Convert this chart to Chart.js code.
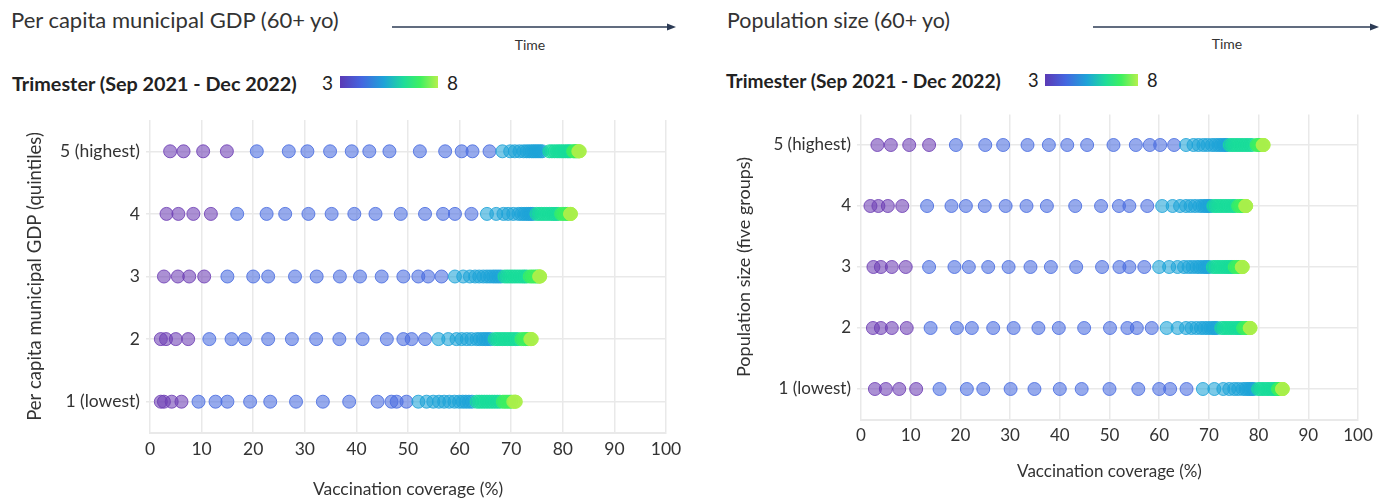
<!DOCTYPE html>
<html>
<head>
<meta charset="utf-8">
<script src="https://cdn.jsdelivr.net/npm/chart.js@4.4.1/dist/chart.umd.min.js"></script>
<style>
  body { margin: 0; background: #fff; font-family: Lato, sans-serif; }
  #wrap { position: relative; width: 1389px; height: 500px; overflow: hidden; }
  .abs { position: absolute; white-space: nowrap; }
  .title { color: #333; }
  .time { font-size: 14px; color: #333; transform: translateX(-50%); }
  .trim { font-weight: bold; color: #222; }
  .num { color: #222; }
  .bar { height: 12px; background: linear-gradient(to right, #5b3ab5 0%, #4466e0 22%, #1ea3d8 45%, #1fdc9a 65%, #3ef060 82%, #b5f04c 100%); }
  canvas { position: absolute; }
</style>
</head>
<body>
<div id="wrap">
  <div class="abs title" style="left:11px;top:6px;font-size:22px">Per capita municipal GDP (60+ yo)</div>
  <svg class="abs" style="left:390px;top:20px" width="290" height="14">
    <line x1="2" y1="7" x2="280" y2="7" stroke="#2c3b55" stroke-width="1.5"/>
    <polygon points="286,7 277,3.5 277,10.5" fill="#2c3b55"/>
  </svg>
  <div class="abs time" style="left:530px;top:36px">Time</div>
  <div class="abs trim" style="left:12px;top:71px;font-size:19.8px">Trimester (Sep 2021 - Dec 2022)</div>
  <div class="abs num" style="left:322px;top:71px;font-size:19px">3</div>
  <div class="abs bar" style="left:340px;top:76px;width:98px"></div>
  <div class="abs num" style="left:447px;top:71px;font-size:19px">8</div>

  <div class="abs title" style="left:727px;top:7px;font-size:21.4px">Population size (60+ yo)</div>
  <svg class="abs" style="left:1091px;top:20px" width="292" height="14">
    <line x1="2" y1="7" x2="282" y2="7" stroke="#2c3b55" stroke-width="1.5"/>
    <polygon points="288,7 279,3.5 279,10.5" fill="#2c3b55"/>
  </svg>
  <div class="abs time" style="left:1227px;top:35px">Time</div>
  <div class="abs trim" style="left:726px;top:69px;font-size:19.1px">Trimester (Sep 2021 - Dec 2022)</div>
  <div class="abs num" style="left:1028px;top:69px;font-size:18.3px">3</div>
  <div class="abs bar" style="left:1045px;top:74px;width:93px"></div>
  <div class="abs num" style="left:1147px;top:69px;font-size:18.3px">8</div>

  <canvas id="gdpChart" width="700" height="400" style="left:0;top:100px"></canvas>
  <canvas id="popChart" width="689" height="405" style="left:700px;top:95px"></canvas>
</div>

<script>
// rows bottom to top, y value = index + 1
const rowLabelsGdp = ["1 (lowest)", "2", "3", "4", "5 (highest)"];
const rowLabelsPop = ["1 (lowest)", "2", "3", "4", "5 (highest)"];
const trimesters = [3, 4, 5, 6, 7, 8];
const trimesterColors = ["110,63,181", "74,109,224", "30,163,216", "24,220,154", "60,240,96", "170,240,74"];

// vaccination coverage (%) per week, grouped by trimester 3..8
const gdpQ1 = [
  [2.1, 2.7, 4.2, 6.1],
  [9.4, 12.7, 15.0, 19.4, 23.3, 28.3, 33.5, 38.6, 44.1, 46.8, 47.8, 49.7],
  [52.0, 53.6, 54.9, 56.0, 57.0, 58.0, 59.0, 59.9, 60.6, 61.2, 61.8, 62.4],
  [63.3, 63.8, 64.3, 64.8, 65.3, 65.8, 66.3, 66.8, 67.3, 67.8],
  [68.4, 68.8, 69.2, 69.6, 70.0],
  [70.4, 70.6, 70.8, 70.9]
];
const gdpQ2 = [
  [2.1, 3.1, 5.0, 7.4],
  [11.5, 15.8, 18.4, 22.9, 27.5, 32.2, 36.7, 41.2, 45.9, 49.1, 50.7, 53.3],
  [55.9, 57.8, 59.4, 60.4, 61.4, 62.3, 63.3, 63.9, 64.5, 65.0, 65.5, 66.0],
  [66.8, 67.3, 67.8, 68.3, 68.8, 69.3, 69.8, 70.3, 70.8, 71.3],
  [72.0, 72.4, 72.8, 73.1, 73.4],
  [73.7, 73.8, 73.9, 74.0]
];
const gdpQ3 = [
  [2.7, 5.4, 7.6, 10.5],
  [15.0, 20.0, 22.9, 28.1, 32.3, 36.8, 40.7, 44.9, 49.1, 52.0, 53.9, 56.5],
  [59.1, 60.7, 62.0, 63.0, 63.8, 64.6, 65.3, 65.9, 66.5, 67.0, 67.5, 68.0],
  [68.7, 69.2, 69.7, 70.2, 70.7, 71.2, 71.7, 72.2, 72.6, 73.0],
  [73.6, 74.0, 74.4, 74.8, 75.1],
  [75.4, 75.5, 75.6, 75.6]
];
const gdpQ4 = [
  [3.2, 5.5, 8.4, 11.8],
  [16.9, 22.6, 26.2, 30.7, 35.2, 39.6, 43.7, 48.6, 53.3, 56.8, 59.1, 62.3],
  [65.3, 67.1, 68.5, 69.4, 70.4, 71.4, 72.0, 72.5, 73.0, 73.4, 73.8, 74.2],
  [74.9, 75.4, 75.9, 76.4, 76.9, 77.4, 77.9, 78.3, 78.7, 79.1],
  [79.7, 80.1, 80.5, 80.9, 81.2],
  [81.4, 81.5, 81.5, 81.6]
];
const gdpQ5 = [
  [3.9, 6.5, 10.3, 14.9],
  [20.7, 26.9, 30.5, 34.9, 39.1, 42.5, 46.4, 52.3, 57.2, 60.4, 62.5, 65.8],
  [68.3, 69.8, 70.7, 71.6, 72.4, 73.0, 73.5, 74.0, 74.4, 74.8, 75.2, 75.6, 76.0],
  [77.4, 77.9, 78.4, 78.9, 79.3, 79.7, 80.1, 80.5, 80.9, 81.2, 81.5],
  [82.0, 82.2, 82.4, 82.6, 82.8],
  [83.0, 83.1, 83.2, 83.3]
];

const popG1 = [
  [2.8, 5.0, 7.7, 11.1],
  [15.8, 21.3, 24.6, 30.1, 34.9, 40.0, 44.4, 50.0, 55.8, 60.0, 62.2, 65.5],
  [68.8, 71.1, 72.9, 74.1, 75.1, 75.9, 76.8, 77.4, 77.9, 78.3, 78.7, 79.0],
  [79.9, 80.4, 80.9, 81.4, 81.9, 82.4, 82.8, 83.2, 83.5, 83.7],
  [83.9, 84.1, 84.3, 84.5, 84.6],
  [84.7, 84.8, 84.8, 84.9]
];
const popG2 = [
  [2.4, 4.0, 6.2, 9.2],
  [14.0, 19.3, 22.3, 26.6, 30.7, 35.7, 39.8, 44.9, 50.1, 53.6, 55.5, 58.5],
  [61.5, 63.7, 65.4, 66.5, 67.5, 68.4, 69.1, 69.7, 70.3, 70.8, 71.2, 71.6],
  [72.5, 73.0, 73.5, 74.0, 74.5, 75.0, 75.5, 75.9, 76.3, 76.6],
  [76.9, 77.3, 77.6, 77.9, 78.1],
  [78.2, 78.3, 78.3, 78.4]
];
const popG3 = [
  [2.5, 4.0, 6.2, 9.0],
  [13.7, 18.8, 21.7, 25.6, 29.7, 34.1, 38.2, 43.3, 48.5, 52.0, 54.0, 57.0],
  [60.0, 62.0, 63.7, 65.0, 65.9, 66.7, 67.5, 68.1, 68.7, 69.2, 69.6, 70.0],
  [70.8, 71.3, 71.8, 72.3, 72.8, 73.3, 73.7, 74.1, 74.5, 74.8],
  [75.2, 75.6, 76.0, 76.3, 76.5],
  [76.6, 76.7, 76.8, 76.8]
];
const popG4 = [
  [1.9, 3.5, 5.4, 8.3],
  [13.3, 18.2, 21.1, 24.9, 29.1, 33.3, 37.4, 43.1, 48.3, 51.9, 54.0, 57.6],
  [60.6, 62.7, 64.2, 65.4, 66.3, 67.2, 68.1, 68.7, 69.2, 69.6, 70.0, 70.3],
  [70.9, 71.4, 71.9, 72.4, 72.9, 73.4, 73.9, 74.4, 74.9, 75.3],
  [75.9, 76.3, 76.7, 77.0, 77.2],
  [77.3, 77.4, 77.5, 77.5]
];
const popG5 = [
  [3.3, 6.0, 9.7, 13.7],
  [19.1, 25.0, 28.6, 33.5, 37.8, 41.5, 45.5, 50.8, 55.3, 58.1, 60.2, 63.0],
  [65.4, 66.9, 67.9, 68.9, 69.7, 70.6, 71.3, 71.9, 72.4, 72.9, 73.3, 73.6],
  [74.2, 74.7, 75.2, 75.7, 76.2, 76.7, 77.2, 77.7, 78.2, 78.7],
  [79.6, 79.9, 80.2, 80.5, 80.7],
  [80.8, 80.9, 81.0, 81.0]
];

const xTicks = [0, 10, 20, 30, 40, 50, 60, 70, 80, 90, 100];

const FONT = "Lato, sans-serif";
const GRID = "#e9e9e9";

function buildDatasets(rows) {
  return trimesters.map((t, k) => {
    const pts = [];
    rows.forEach((row, i) => {
      row[k].forEach((v) => pts.push({ x: v, y: i + 1 }));
    });
    return {
      label: "Trimester " + t,
      data: pts,
      backgroundColor: "rgba(" + trimesterColors[k] + ",0.58)",
      borderColor: "rgba(" + trimesterColors[k] + ",0.85)",
      borderWidth: 1,
      pointRadius: 6.5,
      order: trimesters.length - k, // later trimesters on top
    };
  });
}

function makeChart(id, rows, labels, yTitle, cfg) {
  const ctx = document.getElementById(id).getContext("2d");
  return new Chart(ctx, {
    type: "scatter",
    data: { datasets: buildDatasets(rows) },
    options: {
      responsive: false,
      animation: false,
      devicePixelRatio: 1,
      layout: { padding: { top: cfg.padTop, right: cfg.padRight, left: 0, bottom: 0 } },
      plugins: { legend: { display: false }, tooltip: { enabled: false } },
      scales: {
        x: {
          type: "linear",
          min: 0,
          max: 100,
          afterBuildTicks: (scale) => {
            scale.ticks = xTicks.map((v) => ({ value: v }));
          },
          afterFit: (scale) => {
            scale.height = cfg.xHeight;
          },
          grid: { color: GRID, lineWidth: 1.5, drawTicks: false },
          border: { display: true, color: GRID, width: 2 },
          ticks: { color: "#333", font: { family: FONT, size: cfg.fs }, padding: 6, maxRotation: 0 },
          title: {
            display: true,
            text: "Vaccination coverage (%)",
            color: "#333",
            font: { family: FONT, size: cfg.fs },
            padding: { top: 0, bottom: cfg.xTitlePad },
          },
        },
        y: {
          type: "linear",
          min: 0.5,
          max: 5.5,
          afterBuildTicks: (scale) => {
            scale.ticks = labels.map((l, i) => ({ value: i + 1 }));
          },
          afterFit: (scale) => {
            scale.width = cfg.yWidth;
          },
          grid: { color: GRID, lineWidth: 1.5, tickLength: 4 },
          border: { display: false },
          ticks: {
            color: "#333",
            font: { family: FONT, size: cfg.fs },
            padding: 6,
            callback: (v) => labels[v - 1],
          },
          title: {
            display: true,
            text: yTitle,
            color: "#333",
            font: { family: FONT, size: cfg.fs + 1 },
            padding: { top: cfg.yTitlePad, bottom: 0 },
          },
        },
      },
    },
  });
}

makeChart("gdpChart", [gdpQ1, gdpQ2, gdpQ3, gdpQ4, gdpQ5], rowLabelsGdp,
  "Per capita municipal GDP (quintiles)",
  { padTop: 20, padRight: 34, xHeight: 67, xTitlePad: 0, yWidth: 150, yTitlePad: 24, fs: 17.5 });

makeChart("popChart", [popG1, popG2, popG3, popG4, popG5], rowLabelsPop,
  "Population size (five groups)",
  { padTop: 19.5, padRight: 31, xHeight: 80.5, xTitlePad: 18, yWidth: 161, yTitlePad: 33, fs: 17 });
</script>
</body>
</html>
